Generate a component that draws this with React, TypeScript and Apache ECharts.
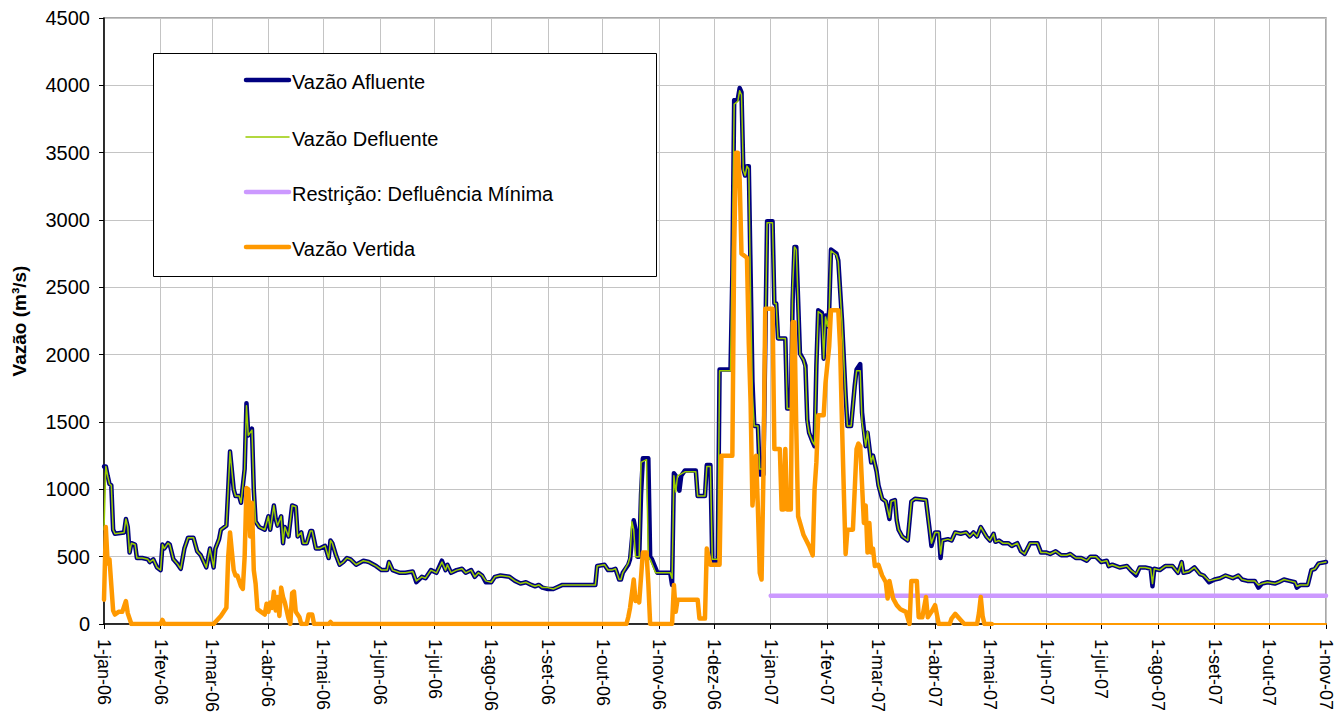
import React, { useEffect, useRef } from "react";
import * as echarts from "echarts";

const FONT = "'Liberation Sans', Arial, Helvetica, sans-serif";
const MONTHS = ["jan", "fev", "mar", "abr", "mai", "jun", "jul", "ago", "set", "out", "nov", "dez"];
const START_UTC = Date.UTC(2006, 0, 1);
const DAY_COUNT = 670; // 1-jan-06 .. 1-nov-07

const categories: string[] = [];
for (let i = 0; i < DAY_COUNT; i++) {
  const d = new Date(START_UTC + i * 86400000);
  const y = d.getUTCFullYear();
  const m = String(d.getUTCMonth() + 1).padStart(2, "0");
  const dd = String(d.getUTCDate()).padStart(2, "0");
  categories.push(`${y}-${m}-${dd}`);
}

const yTicks = { min: 0, max: 4500, interval: 500 };

// [day index since 1-jan-06, m³/s]
const vazaoAfluente: number[][] = [
  [0,1170],[1,1170],[2,1100],[3,1040],[4,1030],[5,700],[6,670],[11,680],[12,780],[13,720],[14,530],[15,600],[17,590],[18,490],[21,490],[24,480],[25,460],[27,480],[29,420],[31,400],[32,590],[33,560],[35,600],[36,590],[38,480],[40,450],[42,410],[44,560],[46,640],[49,640],[51,540],[53,510],[54,480],[56,420],[58,560],[60,420],[61,560],[63,630],[64,700],[67,730],[68,1000],[69,1280],[71,1000],[72,950],[74,950],[75,900],[77,1150],[78,1640],[79,1400],[81,1450],[82,1000],[83,760],[85,720],[88,700],[90,800],[91,700],[93,880],[94,780],[95,730],[97,800],[98,600],[99,720],[101,650],[103,880],[105,870],[106,650],[108,680],[109,600],[111,600],[113,690],[114,690],[116,560],[118,560],[121,580],[123,490],[124,620],[125,600],[127,510],[129,440],[131,460],[133,490],[135,480],[138,440],[142,470],[145,460],[149,430],[152,400],[155,400],[156,460],[158,400],[162,380],[165,380],[169,390],[171,310],[174,350],[176,340],[179,400],[182,380],[185,470],[187,400],[188,440],[190,380],[193,400],[196,410],[198,380],[201,400],[203,350],[205,380],[207,360],[209,310],[212,310],[214,350],[217,360],[222,350],[225,320],[228,300],[231,310],[234,290],[236,280],[238,290],[240,270],[243,260],[246,260],[251,290],[269,290],[270,430],[274,440],[276,400],[278,400],[280,410],[282,330],[283,330],[284,380],[287,440],[288,480],[290,770],[291,700],[292,500],[293,500],[294,960],[295,1230],[298,1230],[299,500],[300,480],[303,380],[310,380],[311,290],[312,1120],[313,1100],[315,990],[316,1100],[318,1140],[324,1140],[325,950],[329,950],[330,1180],[332,1180],[333,470],[336,470],[337,1890],[343,1890],[344,2600],[345,3890],[347,3900],[348,3980],[349,3950],[350,3380],[351,3330],[352,3400],[353,3400],[354,2600],[355,1800],[356,1470],[358,1470],[359,1110],[361,1110],[363,2990],[366,2990],[367,2380],[368,2380],[369,2120],[373,2120],[374,1600],[376,1600],[377,2400],[378,2800],[379,2800],[381,2010],[383,1960],[384,1920],[385,1520],[386,1420],[388,1350],[389,1320],[390,1920],[391,2330],[393,2310],[394,1970],[395,2290],[396,2210],[397,2330],[398,2780],[401,2750],[402,2700],[404,2260],[406,1700],[407,1470],[409,1470],[411,1770],[412,1890],[414,1930],[415,1570],[417,1320],[418,1420],[420,1200],[421,1250],[423,1130],[424,1030],[426,930],[428,910],[430,780],[431,910],[433,920],[434,770],[435,700],[437,650],[440,620],[442,910],[444,930],[450,920],[452,700],[453,580],[455,680],[457,680],[458,490],[459,620],[462,630],[464,620],[466,680],[469,670],[472,680],[474,650],[476,680],[478,650],[480,720],[483,650],[485,620],[487,670],[488,610],[490,620],[492,600],[495,600],[497,580],[500,600],[502,540],[504,520],[507,600],[511,600],[513,530],[516,530],[518,520],[521,540],[524,510],[527,510],[529,520],[532,490],[535,490],[538,470],[540,500],[543,500],[546,460],[549,470],[550,430],[552,440],[556,420],[560,430],[562,400],[565,360],[567,420],[570,420],[573,410],[574,280],[575,410],[578,400],[581,430],[585,430],[588,380],[590,460],[591,380],[594,390],[597,420],[600,370],[602,360],[605,310],[608,330],[611,340],[614,360],[618,340],[621,360],[623,330],[626,320],[630,320],[632,270],[634,300],[637,310],[641,300],[643,310],[646,330],[649,320],[652,310],[653,270],[655,290],[659,290],[661,400],[663,410],[665,450],[669,460]
];

const vazaoDefluente: number[][] = [
  [0,700],[1,1170],[2,1100],[3,1040],[4,1030],[5,700],[6,670],[11,680],[12,780],[13,720],[14,530],[15,600],[17,590],[18,490],[21,490],[24,480],[25,460],[27,480],[29,420],[31,400],[32,590],[33,560],[35,600],[36,590],[38,480],[40,450],[42,410],[44,560],[46,640],[49,640],[51,540],[53,510],[54,480],[56,420],[58,560],[60,420],[61,560],[63,630],[64,700],[67,730],[68,1000],[69,1280],[71,1000],[72,950],[74,950],[75,900],[77,1150],[78,1620],[79,1400],[81,1440],[82,1000],[83,760],[85,720],[88,700],[90,800],[91,700],[93,880],[94,780],[95,730],[97,800],[98,600],[99,720],[101,650],[103,880],[105,870],[106,650],[108,680],[109,600],[111,600],[113,690],[114,690],[116,560],[118,560],[121,580],[123,490],[124,620],[125,600],[127,510],[129,440],[131,460],[133,490],[135,480],[138,440],[142,470],[145,460],[149,430],[152,400],[155,400],[156,460],[158,400],[162,380],[165,380],[169,390],[171,320],[174,350],[176,340],[179,400],[182,380],[185,460],[187,400],[188,440],[190,380],[193,400],[196,410],[198,380],[201,400],[203,350],[205,380],[207,360],[209,320],[212,310],[214,350],[217,360],[222,350],[225,320],[228,300],[231,310],[234,290],[236,280],[238,290],[240,270],[243,270],[246,260],[251,290],[269,290],[270,430],[274,440],[276,400],[278,400],[280,410],[282,330],[283,330],[284,380],[287,450],[288,500],[289,760],[290,700],[291,500],[293,500],[294,1200],[297,1220],[298,500],[299,480],[302,380],[310,380],[311,340],[312,1100],[313,980],[314,1100],[318,1130],[324,1130],[325,950],[329,950],[330,1170],[332,1170],[333,480],[336,480],[337,1880],[343,1880],[344,2800],[345,3860],[347,3880],[348,3960],[349,3930],[350,3370],[351,3330],[352,3400],[353,3380],[354,2400],[355,1700],[356,1470],[358,1470],[359,1150],[361,1150],[363,2980],[366,2980],[367,2380],[368,2380],[369,2120],[373,2120],[374,1600],[376,1600],[377,2500],[378,2800],[379,2780],[381,2000],[383,1960],[384,1900],[385,1500],[386,1420],[388,1350],[389,1330],[390,1920],[391,2320],[393,2300],[394,1970],[395,2280],[396,2210],[397,2330],[398,2770],[401,2740],[402,2690],[404,2250],[406,1690],[407,1470],[409,1470],[411,1760],[412,1880],[414,1880],[415,1500],[417,1320],[418,1430],[420,1200],[421,1250],[423,1130],[424,1030],[426,930],[428,910],[430,790],[431,910],[433,920],[434,770],[435,700],[437,650],[440,620],[442,910],[444,930],[450,920],[452,700],[453,600],[455,680],[457,680],[458,520],[459,620],[462,630],[464,620],[466,680],[469,670],[472,680],[474,650],[476,680],[478,650],[480,720],[483,650],[485,620],[487,670],[488,610],[490,620],[492,600],[495,600],[497,580],[500,600],[502,540],[504,520],[507,600],[511,600],[513,530],[516,530],[518,520],[521,540],[524,510],[527,510],[529,520],[532,490],[535,490],[538,470],[540,500],[543,500],[546,460],[549,470],[550,430],[552,440],[556,420],[560,430],[562,400],[565,370],[567,420],[570,420],[573,410],[574,300],[575,410],[578,400],[581,430],[585,430],[588,380],[590,460],[591,380],[594,390],[597,420],[600,370],[602,360],[605,320],[608,330],[611,340],[614,360],[618,340],[621,360],[623,330],[626,320],[630,320],[632,290],[634,300],[637,310],[641,300],[643,310],[646,330],[649,320],[652,310],[653,280],[655,290],[659,290],[661,400],[663,410],[665,450],[669,460]
];

const restricaoDefluenciaMinima: number[][] = [[365, 210], [669, 210]];

const vazaoVertida: number[][] = [
  [0,180],[1,720],[2,450],[3,480],[5,100],[6,70],[8,90],[10,90],[12,170],[13,80],[15,0],[31,0],[32,30],[33,0],[60,0],[62,30],[64,60],[67,120],[68,500],[69,680],[71,400],[72,360],[73,360],[75,280],[76,260],[77,500],[78,1010],[79,1000],[80,650],[81,900],[82,400],[83,300],[84,110],[86,90],[88,70],[89,150],[90,90],[91,160],[92,120],[93,240],[94,100],[95,200],[96,60],[97,270],[98,200],[99,160],[101,40],[102,0],[103,230],[104,240],[105,90],[107,50],[108,0],[111,0],[112,70],[114,70],[115,0],[123,0],[124,15],[125,0],[286,0],[287,50],[288,120],[290,330],[291,170],[292,200],[293,160],[295,530],[297,530],[298,300],[299,0],[311,0],[312,290],[313,90],[314,180],[325,180],[326,40],[329,40],[330,560],[332,440],[337,440],[338,1250],[344,1250],[345,2800],[346,3500],[347,3500],[348,3300],[349,2750],[352,2720],[353,2080],[354,1640],[355,880],[357,1250],[358,850],[359,380],[360,330],[361,1100],[362,2340],[366,2340],[367,1300],[370,1300],[371,850],[372,850],[373,1300],[374,850],[376,850],[377,2240],[378,2240],[379,1450],[380,800],[383,660],[386,580],[388,510],[389,1000],[390,1200],[391,1550],[394,1550],[395,1790],[397,2060],[398,2330],[402,2330],[403,2050],[404,1500],[405,1000],[406,520],[407,700],[410,700],[412,1300],[413,1340],[414,1320],[416,750],[417,880],[418,530],[419,750],[420,530],[421,560],[422,430],[424,440],[426,360],[428,310],[429,190],[430,320],[432,190],[434,140],[436,110],[439,90],[441,0],[442,320],[445,320],[446,50],[448,50],[450,200],[451,50],[453,90],[455,140],[457,0],[463,0],[464,40],[466,75],[469,30],[471,0],[478,0],[479,80],[480,200],[481,60],[482,0],[486,0]
];

const vazaoVertidaFim: number[][] = [[486, 0], [669, 0]];

const legendItems = [
  { name: "Vazão Afluente", color: "#000080", width: 4.5 },
  { name: "Vazão Defluente", color: "#99CC00", width: 1.5 },
  { name: "Restrição: Defluência Mínima", color: "#CC99FF", width: 4.5 },
  { name: "Vazão Vertida", color: "#FF9900", width: 4.5 },
];

function isMonthStart(index: number): boolean {
  const c = categories[index];
  return !!c && c.slice(8, 10) === "01";
}

function formatDate(value: string): string {
  const y = value.slice(2, 4);
  const m = Number(value.slice(5, 7));
  const d = Number(value.slice(8, 10));
  return `${d}-${MONTHS[m - 1]}-${y}`;
}

export default function App() {
  const ref = useRef<HTMLDivElement>(null);

  useEffect(() => {
    if (!ref.current) return;
    const chart = echarts.init(ref.current, undefined, { renderer: "svg" });

    const legendTop = [80, 137, 192, 247];
    const graphic: any[] = [
      {
        type: "rect",
        z: 100,
        shape: { x: 153.5, y: 53.5, width: 503, height: 223 },
        style: { fill: "#ffffff", stroke: "#000000", lineWidth: 1 },
      },
    ];
    legendItems.forEach((it, i) => {
      graphic.push({
        type: "line",
        z: 101,
        shape: { x1: 246, y1: legendTop[i], x2: 289, y2: legendTop[i] },
        style: { stroke: it.color, lineWidth: it.width, lineCap: "round" },
      });
      graphic.push({
        type: "text",
        z: 101,
        x: 292,
        y: legendTop[i] + 2,
        style: {
          text: it.name,
          fontSize: 20,
          fontFamily: FONT,
          fill: "#000",
          verticalAlign: "middle",
          textVerticalAlign: "middle",
        },
      });
    });

    const line = (name: string, data: number[][], color: string, width: number, z: number) => ({
      name,
      type: "line",
      data,
      symbol: "none",
      showSymbol: false,
      z,
      lineStyle: { color, width, join: "round", cap: "round" },
      itemStyle: { color },
    });

    chart.setOption({
      animation: false,
      grid: {
        left: 104,
        right: 8,
        top: 18,
        bottom: 90,
        show: true,
        borderColor: "#8c8c8c",
        borderWidth: 1.5,
        backgroundColor: "transparent",
      },
      xAxis: {
        type: "category",
        data: categories,
        boundaryGap: false,
        axisLine: { lineStyle: { color: "#000", width: 1.5 } },
        axisTick: { interval: isMonthStart, length: 5, lineStyle: { color: "#000" } },
        axisLabel: {
          interval: isMonthStart,
          rotate: -90,
          margin: 15,
          fontSize: 18,
          fontFamily: FONT,
          color: "#000",
          formatter: (v: string) => formatDate(v),
        },
        splitLine: { show: true, interval: isMonthStart, lineStyle: { color: "#c4c4c4", width: 1 } },
      },
      yAxis: {
        type: "value",
        min: yTicks.min,
        max: yTicks.max,
        interval: yTicks.interval,
        name: "Vazão (m³/s)",
        nameLocation: "middle",
        nameGap: 75,
        nameTextStyle: { fontWeight: "bold", fontSize: 19, fontFamily: FONT, color: "#000" },
        axisLine: { show: true, lineStyle: { color: "#000", width: 1.5 } },
        axisTick: { show: true, length: 5, lineStyle: { color: "#000" } },
        axisLabel: {
          fontSize: 20,
          fontFamily: FONT,
          color: "#000",
          margin: 14,
          formatter: (v: number) => String(v),
        },
        splitLine: { show: true, lineStyle: { color: "#c4c4c4", width: 1 } },
      },
      legend: { show: false },
      graphic,
      series: [
        line("Vazão Afluente", vazaoAfluente, "#000080", 4.5, 2),
        line("Vazão Defluente", vazaoDefluente, "#99CC00", 1.5, 3),
        line("Restrição: Defluência Mínima", restricaoDefluenciaMinima, "#CC99FF", 4.5, 4),
        line("Vazão Vertida", vazaoVertida, "#FF9900", 4.5, 5),
        line("Vazão Vertida (zero)", vazaoVertidaFim, "#FF9900", 2, 5),
      ],
    });

    return () => chart.dispose();
  }, []);

  return (
    <div
      ref={ref}
      style={{ position: "absolute", left: 0, top: 0, width: 1335, height: 715, background: "#fff" }}
    />
  );
}
